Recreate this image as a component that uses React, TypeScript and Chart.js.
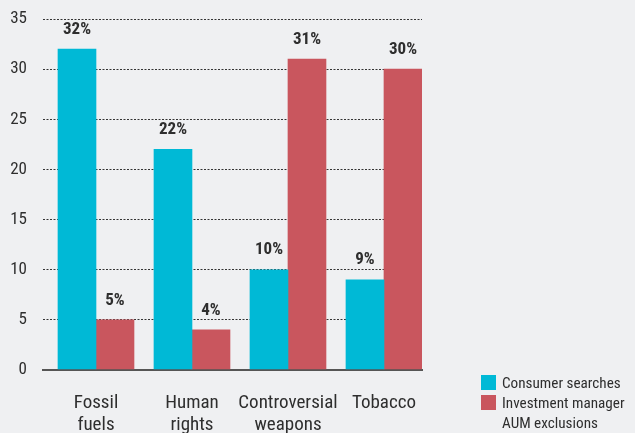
import React, { useEffect, useRef } from "react";
import { Chart, registerables } from "chart.js";

Chart.register(...registerables);

const categories: string[][] = [["Fossil", "fuels"], ["Human", "rights"], ["Controversial", "weapons"], ["Tobacco"]];
const consumerSearches: number[] = [32, 22, 10, 9];
const managerExclusions: number[] = [5, 4, 31, 30];
const yTicks: number[] = [0, 5, 10, 15, 20, 25, 30, 35];
const seriesNames: string[][] = [["Consumer searches"], ["Investment manager", "AUM exclusions"]];

const CYAN = "#00b9d6";
const RED = "#c9565e";
const BG = "#eff0f2";
const TEXT = "#2e2e2e";
const FONT = "'Roboto Condensed', 'Liberation Sans Narrow', 'Arial Narrow', 'DejaVu Sans Condensed', sans-serif";

const valueLabels = {
  id: "valueLabels",
  afterDatasetsDraw(chart: any) {
    const ctx = chart.ctx;
    ctx.save();
    ctx.font = `bold 17px ${FONT}`;
    ctx.fillStyle = TEXT;
    ctx.textAlign = "center";
    ctx.textBaseline = "bottom";
    chart.data.datasets.forEach((ds: any, di: number) => {
      const meta = chart.getDatasetMeta(di);
      meta.data.forEach((bar: any, i: number) => {
        const v = ds.data[i].y;
        ctx.fillText(`${v}%`, bar.x, bar.y - 11);
      });
    });
    ctx.restore();
  },
};

export default function App() {
  const canvasRef = useRef<HTMLCanvasElement | null>(null);

  useEffect(() => {
    if (!canvasRef.current) return;
    const chart = new Chart(canvasRef.current, {
      type: "bar",
      data: {
        datasets: [
          {
            label: seriesNames[0].join(" "),
            data: consumerSearches.map((v, i) => ({ x: i, y: v })),
            backgroundColor: CYAN,
            barThickness: 38,
          },
          {
            label: seriesNames[1].join(" "),
            data: managerExclusions.map((v, i) => ({ x: i, y: v })),
            backgroundColor: RED,
            barThickness: 38,
          },
        ],
      },
      options: {
        animation: false,
        responsive: true,
        maintainAspectRatio: false,
        layout: { padding: { top: 19, right: 213, left: 0, bottom: 0 } },
        plugins: { legend: { display: false }, tooltip: { enabled: false } },
        scales: {
          x: {
            type: "linear",
            offset: false,
            min: -0.552,
            max: 3.396,
            afterBuildTicks: (axis: any) => {
              axis.ticks = categories.map((_, i) => ({ value: i }));
            },
            afterFit: (axis: any) => {
              axis.height = 63;
            },
            grid: { display: false, drawTicks: false },
            border: { display: true, color: "#555", width: 2 },
            ticks: {
              padding: 23,
              color: TEXT,
              font: { family: FONT, size: 19, lineHeight: 1.12 },
              callback: (v: any) => categories[Math.round(Number(v))] ?? "",
              maxRotation: 0,
              autoSkip: false,
            },
          },
          y: {
            min: 0,
            max: 35,
            afterBuildTicks: (axis: any) => {
              axis.ticks = yTicks.map((v) => ({ value: v }));
            },
            afterFit: (axis: any) => {
              axis.width = 43;
              axis.paddingTop = 0;
              axis.paddingBottom = 0;
            },
            grid: {
              drawTicks: false,
              color: (c: any) => (c.tick && c.tick.value === 0 ? "#555" : "#333"),
              lineWidth: (c: any) => (c.tick && c.tick.value === 0 ? 2 : 1),
            },
            border: {
              display: false,
              dash: (c: any) => (c.tick && c.tick.value === 0 ? [] : [2, 1.5]),
            },
            ticks: {
              padding: 16,
              color: TEXT,
              font: { family: FONT, size: 17 },
            },
          },
        },
      },
      plugins: [valueLabels],
    } as any);
    return () => chart.destroy();
  }, []);

  const legendItem = (color: string, lines: string[], key: number) => (
    <div key={key} style={{ display: "flex", alignItems: "flex-start" }}>
      <div style={{ width: 15, height: 15, background: color, marginTop: 2, marginRight: 6, flex: "none" }} />
      <div>
        {lines.map((l, i) => (
          <div key={i} style={{ height: 20, lineHeight: "20px" }}>{l}</div>
        ))}
      </div>
    </div>
  );

  return (
    <div style={{ position: "fixed", left: 0, top: 0, width: 635, height: 433, background: BG }}>
      <canvas ref={canvasRef} />
      <div
        style={{
          position: "absolute",
          left: 481,
          top: 373,
          fontFamily: FONT,
          fontSize: 15.2,
          color: TEXT,
        }}
      >
        {legendItem(CYAN, seriesNames[0], 0)}
        {legendItem(RED, seriesNames[1], 1)}
      </div>
    </div>
  );
}
